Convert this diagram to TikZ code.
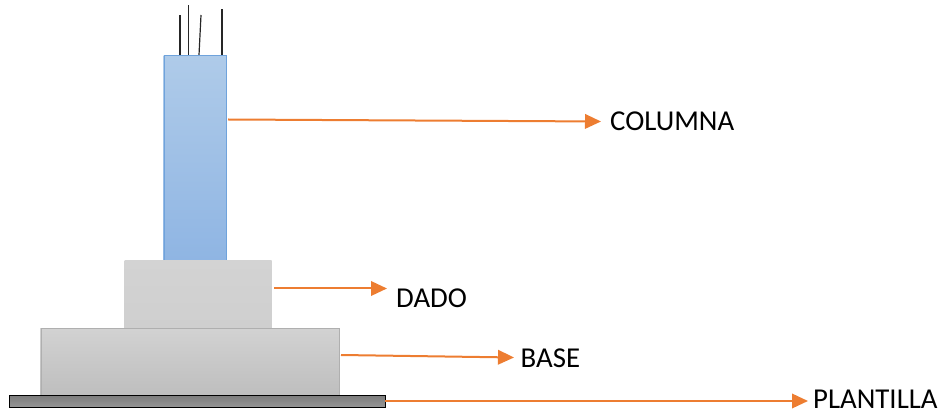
\documentclass[tikz,border=0pt]{standalone}
\usepackage{fontspec}
\setmainfont{Carlito}
\usetikzlibrary{arrows.meta}
\definecolor{arrowor}{HTML}{ED7D31}
\definecolor{coltop}{HTML}{AFCBE9}
\definecolor{colbot}{HTML}{8FB5E3}
\definecolor{coledge}{HTML}{6FA3DC}
\definecolor{dadotop}{HTML}{D3D3D3}
\definecolor{dadobot}{HTML}{CFCFCF}
\definecolor{basetop}{HTML}{D2D2D2}
\definecolor{basebot}{HTML}{BEBEBE}
\definecolor{baseedge}{HTML}{AFAFAF}
\definecolor{plantop}{HTML}{7D7D7D}
\definecolor{planbot}{HTML}{969696}
\tikzset{
  x=1pt,y=-1pt,
  bar/.style={line width=1.2pt,draw=black!85},
  callout/.style={draw=arrowor,line width=2pt,-{Triangle[length=16pt,width=14.5pt]}},
  lab/.style={inner sep=0pt,anchor=west,font=\fontsize{28.8}{32}\selectfont,text=black},
  block/.style={inner sep=0pt,anchor=north west}
}
\begin{document}
\begin{tikzpicture}
\useasboundingbox (0,0) rectangle (943,411);
% rebar
\coordinate (r1a) at (180,55); \coordinate (r1b) at (180,15);
\coordinate (r2a) at (188.5,55); \coordinate (r2b) at (188.5,5);
\coordinate (r3a) at (199,55); \coordinate (r3b) at (201,15);
\coordinate (r4a) at (222,55); \coordinate (r4b) at (222,9);
\draw[bar] (r1a)--(r1b);
\draw[bar] (r2a)--(r2b);
\draw[bar] (r3a)--(r3b);
\draw[bar] (r4a)--(r4b);
% blocks
\shade[top color=coltop,bottom color=colbot] (163.5,55.5) rectangle (226,260.5);
\node[block,draw=coledge,line width=1pt,minimum width=62pt,minimum height=205pt] (columna) at (164,55.5) {};
\shade[top color=dadotop,bottom color=dadobot] (124.5,260.5) rectangle (271.5,328.5);
\node[block,minimum width=147pt,minimum height=68pt] (dado) at (124.5,260.5) {};
\shade[top color=basetop,bottom color=basebot] (40,328.5) rectangle (339,395.5);
\node[block,draw=baseedge,line width=1pt,minimum width=298.5pt,minimum height=67pt] (base) at (40.5,328.5) {};
\shade[top color=plantop,bottom color=planbot] (9,395.5) rectangle (384.5,407.5);
\node[block,draw=black,line width=1pt,minimum width=375.5pt,minimum height=12pt] (plantilla) at (9,395.5) {};
% labels
\node[lab] (lcol) at (610,121.5) {COLUMNA};
\node[lab] (ldado) at (396,298.5) {DADO};
\node[lab] (lbase) at (520.5,358.5) {BASE};
\node[lab] (lplan) at (813,399.5) {PLANTILLA};
% arrows
\coordinate (c1) at (228,119.5); \coordinate (c2) at (601,121.5);
\coordinate (d1) at (274,288.5); \coordinate (d2) at (387,288.5);
\coordinate (b1) at (341,355); \coordinate (b2) at (514,357.5);
\coordinate (p1) at (385,401); \coordinate (p2) at (808,401);
\draw[callout] (c1)--(c2);
\draw[callout] (d1)--(d2);
\draw[callout] (b1)--(b2);
\draw[callout] (p1)--(p2);
\end{tikzpicture}
\end{document}
